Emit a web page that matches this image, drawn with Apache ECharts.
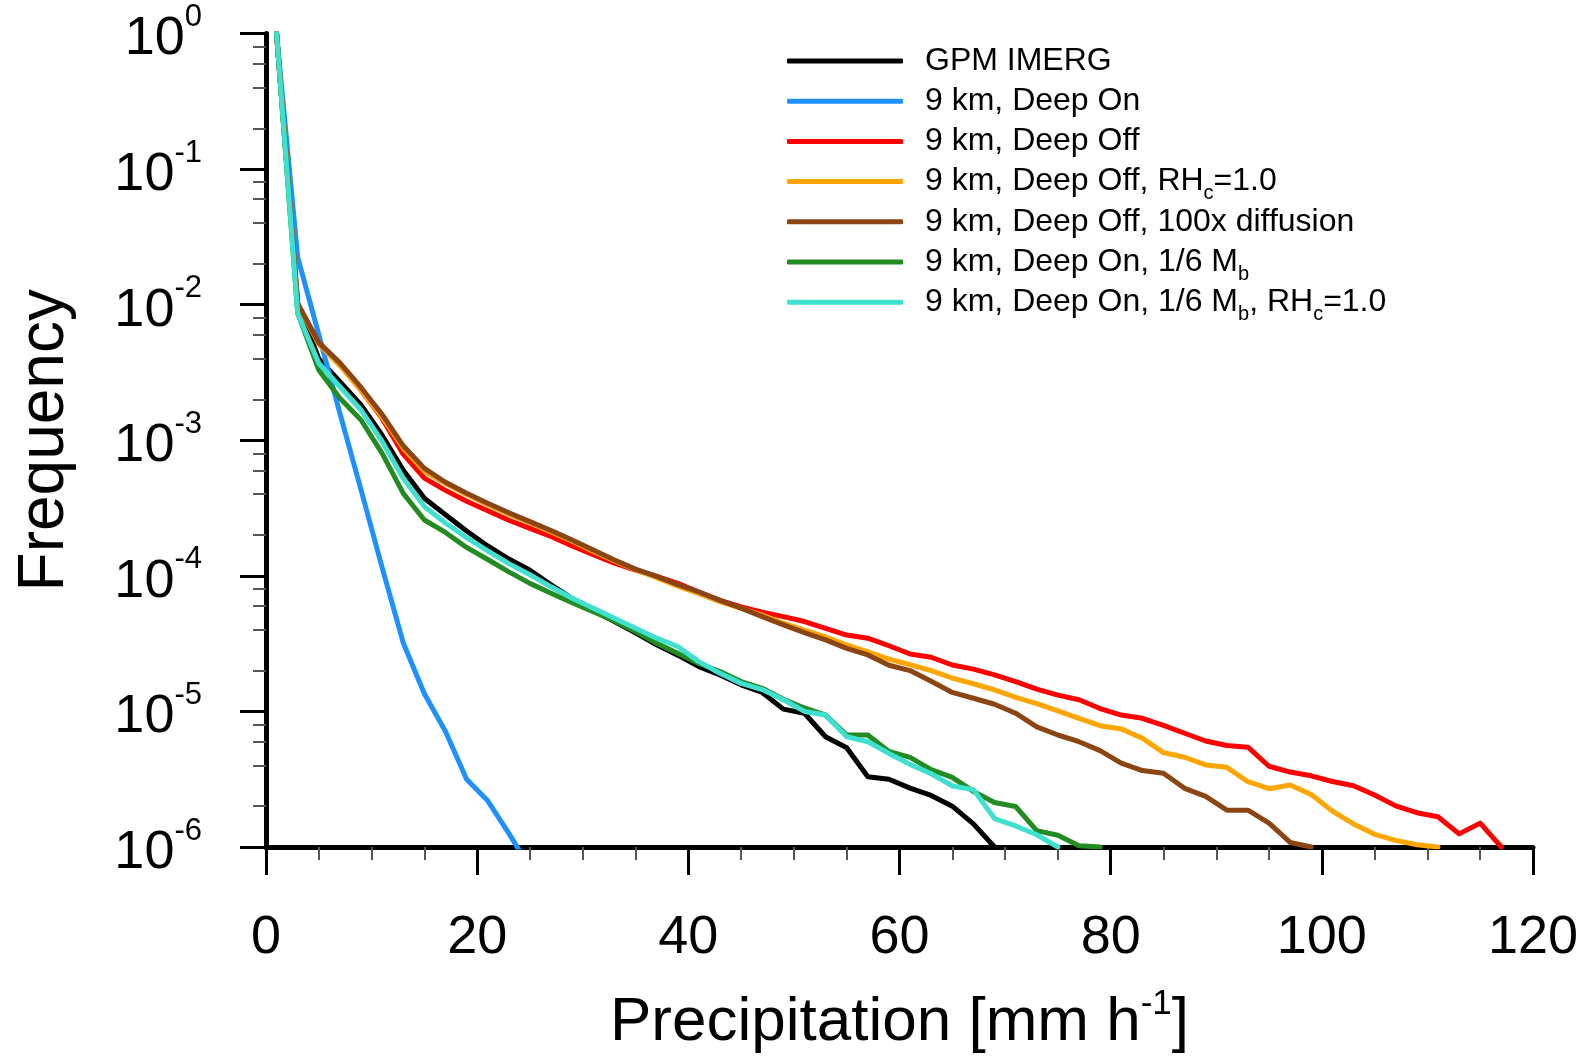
<!DOCTYPE html>
<html>
<head>
<meta charset="utf-8">
<script src="https://cdn.jsdelivr.net/npm/echarts/dist/echarts.min.js"></script>
<style>
html,body{margin:0;padding:0;background:#fff;}
#chart{width:1582px;height:1056px;}
</style>
</head>
<body>
<div id="chart"></div>
<script>
// Bin centres of precipitation rate [mm/h]
const precipBins = [1,3,5,7,9,11,13,15,17,19,21,23,25,27,29,31,33,35,37,39,41,43,45,47,49,51,53,55,57,59,
  61,63,65,67,69,71,73,75,77,79,81,83,85,87,89,91,93,95,97,99,101,103,105,107,109,111,113,115,117,119];

const gpmImerg = [1,1.02e-2,4.0e-3,2.7e-3,1.82e-3,1.09e-3,6.0e-4,3.73e-4,2.82e-4,2.14e-4,1.66e-4,1.33e-4,1.10e-4,8.6e-5,6.8e-5,
  5.6e-5,4.6e-5,3.8e-5,3.1e-5,2.6e-5,2.14e-5,1.86e-5,1.57e-5,1.38e-5,1.04e-5,9.7e-6,6.5e-6,5.4e-6,3.3e-6,3.16e-6,
  2.72e-6,2.4e-6,2.0e-6,1.48e-6,1.0e-6,null,null,null,null,null,null,null,null,null,null,null,null,null,null,null,
  null,null,null,null,null,null,null,null,null,null];

const deepOn = [1,2.24e-2,6.0e-3,1.58e-3,4.3e-4,1.15e-4,3.2e-5,1.35e-5,7.1e-6,3.16e-6,2.19e-6,1.26e-6,7.0e-7,null,null,
  null,null,null,null,null,null,null,null,null,null,null,null,null,null,null,
  null,null,null,null,null,null,null,null,null,null,null,null,null,null,null,
  null,null,null,null,null,null,null,null,null,null,null,null,null,null,null];

const deepOff = [1,1.0e-2,5.25e-3,3.63e-3,2.34e-3,1.45e-3,7.9e-4,5.25e-4,4.27e-4,3.55e-4,3.02e-4,2.57e-4,2.24e-4,1.95e-4,1.66e-4,
  1.43e-4,1.24e-4,1.10e-4,9.9e-5,8.8e-5,7.6e-5,6.6e-5,5.9e-5,5.4e-5,5.0e-5,4.6e-5,4.1e-5,3.66e-5,3.47e-5,3.05e-5,
  2.65e-5,2.51e-5,2.2e-5,2.05e-5,1.86e-5,1.66e-5,1.46e-5,1.32e-5,1.22e-5,1.05e-5,9.4e-6,8.9e-6,7.9e-6,6.9e-6,6.05e-6,
  5.6e-6,5.45e-6,3.94e-6,3.57e-6,3.35e-6,3.04e-6,2.83e-6,2.42e-6,2.01e-6,1.79e-6,1.67e-6,1.25e-6,1.5e-6,1.0e-6,null];

const deepOffRH = [1,1.0e-2,5.13e-3,3.55e-3,2.34e-3,1.48e-3,8.7e-4,5.9e-4,4.8e-4,3.98e-4,3.35e-4,2.85e-4,2.45e-4,2.11e-4,1.80e-4,
  1.51e-4,1.29e-4,1.11e-4,9.7e-5,8.4e-5,7.4e-5,6.46e-5,5.75e-5,5.13e-5,4.47e-5,3.98e-5,3.55e-5,3.09e-5,2.75e-5,2.43e-5,
  2.21e-5,2.0e-5,1.76e-5,1.6e-5,1.44e-5,1.27e-5,1.14e-5,1.01e-5,8.9e-6,7.85e-6,7.43e-6,6.34e-6,4.97e-6,4.59e-6,4.03e-6,
  3.87e-6,3.03e-6,2.69e-6,2.87e-6,2.44e-6,1.84e-6,1.48e-6,1.24e-6,1.12e-6,1.04e-6,1.0e-6,null,null,null,null];

const deepOffDiff = [1,1.02e-2,5.25e-3,3.72e-3,2.45e-3,1.55e-3,9.1e-4,6.2e-4,4.9e-4,4.07e-4,3.43e-4,2.92e-4,2.51e-4,2.16e-4,1.84e-4,
  1.55e-4,1.31e-4,1.12e-4,9.9e-5,8.6e-5,7.6e-5,6.6e-5,5.77e-5,5.0e-5,4.35e-5,3.81e-5,3.37e-5,2.92e-5,2.61e-5,2.19e-5,
  2.0e-5,1.67e-5,1.38e-5,1.25e-5,1.13e-5,9.7e-6,7.7e-6,6.7e-6,5.98e-6,5.14e-6,4.15e-6,3.66e-6,3.5e-6,2.71e-6,2.36e-6,
  1.87e-6,1.87e-6,1.5e-6,1.08e-6,1.0e-6,null,null,null,null,null,null,null,null,null,null];

const deepOnMb = [1,8.65e-3,3.3e-3,2.04e-3,1.41e-3,8.0e-4,4.06e-4,2.58e-4,2.09e-4,1.62e-4,1.32e-4,1.07e-4,8.8e-5,7.45e-5,6.34e-5,
  5.44e-5,4.65e-5,3.88e-5,3.18e-5,2.69e-5,2.26e-5,1.97e-5,1.66e-5,1.48e-5,1.23e-5,1.06e-5,9.4e-6,6.7e-6,6.7e-6,5.06e-6,
  4.58e-6,3.72e-6,3.26e-6,2.57e-6,2.13e-6,1.99e-6,1.32e-6,1.22e-6,1.02e-6,1.0e-6,null,null,null,null,null,
  null,null,null,null,null,null,null,null,null,null,null,null,null,null,null];

const deepOnMbRH = [1,8.65e-3,3.7e-3,2.48e-3,1.67e-3,9.8e-4,5.25e-4,3.24e-4,2.45e-4,1.91e-4,1.53e-4,1.23e-4,1.02e-4,8.3e-5,6.84e-5,
  5.77e-5,4.86e-5,4.11e-5,3.47e-5,3.01e-5,2.33e-5,1.91e-5,1.61e-5,1.45e-5,1.22e-5,1.0e-5,9.4e-6,6.5e-6,5.98e-6,4.9e-6,
  4.07e-6,3.47e-6,2.82e-6,2.65e-6,1.62e-6,1.43e-6,1.23e-6,1.0e-6,null,null,null,null,null,null,null,
  null,null,null,null,null,null,null,null,null,null,null,null,null,null,null];

const seriesNames = ['GPM IMERG','9 km, Deep On','9 km, Deep Off','9 km, Deep Off, RH_c=1.0',
  '9 km, Deep Off, 100x diffusion','9 km, Deep On, 1/6 M_b','9 km, Deep On, 1/6 M_b, RH_c=1.0'];
const seriesColors = ['#000000','#1e90ff','#ff0000','#ffa500','#8b4513','#228b22','#40e0d0'];
const seriesValues = [gpmImerg, deepOn, deepOff, deepOffRH, deepOffDiff, deepOnMb, deepOnMbRH];

const yMajorTicks = [1, 1e-1, 1e-2, 1e-3, 1e-4, 1e-5, 1e-6];
const yExponents = ['0','-1','-2','-3','-4','-5','-6'];
const yMinorTicks = [0.8,0.6,0.4,0.2, 0.08,0.06,0.04,0.02, 0.008,0.006,0.004,0.002,
  8e-4,6e-4,4e-4,2e-4, 8e-5,6e-5,4e-5,2e-5, 8e-6,6e-6,4e-6,2e-6];

const FONT = '"Liberation Sans", Arial, Helvetica, sans-serif';

function richName(name) {
  // "_x" marks a one-letter subscript; every label gets a sub token so all rows share one height
  let s = '{a|' + name.replace(/_(\w)/g, '}{s|$1}{a|') + '}';
  if (name.indexOf('_') < 0) s += '{s| }';
  return s;
}

const chart = echarts.init(document.getElementById('chart'), null, {renderer: 'canvas'});

const option = {
  animation: false,
  backgroundColor: '#ffffff',
  grid: {left: 266, right: 49, top: 33.5, bottom: 209, containLabel: false, outerBoundsMode: 'none'},
  legend: {
    orient: 'vertical', left: 787, top: 39, padding: 0,
    itemWidth: 116, itemHeight: 5, itemGap: -3.8,
    icon: 'roundRect',
    selectedMode: false,
    data: seriesNames,
    formatter: richName,
    textStyle: {
      color: '#000', fontFamily: FONT, fontSize: 32, lineHeight: 44, padding: [0, 0, 0, 17],
      rich: {
        a: {fontSize: 32, lineHeight: 44, fontFamily: FONT, color: '#000'},
        s: {fontSize: 20, lineHeight: 20, padding: [24, 0, 0, 0], fontFamily: FONT, color: '#000'}
      }
    }
  },
  xAxis: {
    type: 'value', min: 0, max: 120, interval: 20,
    axisLine: {show: true, onZero: false, lineStyle: {color: '#000', width: 5}},
    axisTick: {show: true, length: 28, lineStyle: {color: '#000', width: 3}},
    minorTick: {show: true, splitNumber: 4, length: 13, lineStyle: {color: '#555', width: 2}},
    splitLine: {show: false},
    axisLabel: {color: '#000', fontSize: 54, fontFamily: FONT, margin: 64},
    name: '{a|Precipitation [mm h}{s|-1}{a|]}',
    nameLocation: 'middle', nameGap: 145,
    nameTextStyle: {
      color: '#000', fontFamily: FONT,
      rich: {
        a: {fontSize: 62, lineHeight: 62, fontFamily: FONT, color: '#000'},
        s: {fontSize: 35, lineHeight: 35, padding: [0, 0, 38, 0], fontFamily: FONT, color: '#000'}
      }
    }
  },
  yAxis: [{
    type: 'log', logBase: 10, min: 1e-6, max: 1, position: 'left',
    axisLine: {show: true, lineStyle: {color: '#000', width: 5}},
    axisTick: {show: true, length: 26, customValues: yMajorTicks, lineStyle: {color: '#000', width: 3}},
    minorTick: {show: false},
    splitLine: {show: false},
    axisLabel: {
      customValues: yMajorTicks, margin: 64, padding: [12, 0, 0, 0],
      formatter: function (v) {
        let idx = 0, best = Infinity;
        yMajorTicks.forEach(function (t, i) {
          const d = Math.abs(Math.log10(t) - Math.log10(v));
          if (d < best) { best = d; idx = i; }
        });
        return '{b|10}{s|' + yExponents[idx] + '}';
      },
      rich: {
        b: {fontSize: 54, lineHeight: 54, fontFamily: FONT, color: '#000'},
        s: {fontSize: 31, lineHeight: 31, padding: [0, 0, 44, 0], fontFamily: FONT, color: '#000'}
      }
    },
    name: 'Frequency', nameLocation: 'middle', nameGap: 189,
    nameTextStyle: {color: '#000', fontSize: 64, fontFamily: FONT}
  }, {
    type: 'log', logBase: 10, min: 1e-6, max: 1, position: 'left',
    axisLine: {show: false},
    axisTick: {show: true, length: 13, customValues: yMinorTicks, lineStyle: {color: '#555', width: 2}},
    axisLabel: {show: false},
    splitLine: {show: false}
  }],
  series: seriesNames.map(function (name, i) {
    return {
      name: name, type: 'line', xAxisIndex: 0, yAxisIndex: 0,
      symbol: 'none', showSymbol: false, clip: true, connectNulls: false,
      lineStyle: {color: seriesColors[i], width: 5, cap: 'round', join: 'round'},
      itemStyle: {color: seriesColors[i]},
      emphasis: {disabled: true},
      data: precipBins.map(function (x, j) { return [x, seriesValues[i][j]]; })
    };
  })
};
chart.setOption(option);
</script>
</body>
</html>
